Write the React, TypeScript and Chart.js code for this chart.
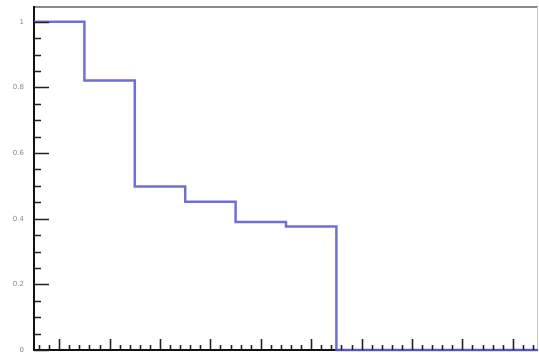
import React, { useEffect, useRef } from "react";
import { Chart, registerables } from "chart.js";

Chart.register(...registerables);

// bin centres (integers) and bin contents
const binCenters = [0, 1, 2, 3, 4, 5, 6, 7, 8, 9];
const binValues = [1.0, 0.821, 0.498, 0.452, 0.39, 0.376, 0, 0, 0, 0];
const yTickValues = [0, 0.2, 0.4, 0.6, 0.8, 1];
const yTickLabels = ["0", "0.2", "0.4", "0.6", "0.8", "1"];
const xMajorTicks = [0, 1, 2, 3, 4, 5, 6, 7, 8, 9];

const X_MIN = -0.5;
const X_MAX = 9.5;
const Y_MIN = 0;
const Y_MAX = 1.045;

const framePlugin = {
  id: "rootFrame",
  beforeDatasetsDraw(chart: any) {
    const { ctx, chartArea } = chart;
    const { left, right, top, bottom } = chartArea;
    ctx.save();
    // top line
    ctx.strokeStyle = "#8a8a8a";
    ctx.lineWidth = 2;
    ctx.beginPath();
    ctx.moveTo(left, top);
    ctx.lineTo(right, top);
    ctx.stroke();
    // right line
    ctx.strokeStyle = "#c8c8c8";
    ctx.lineWidth = 1;
    ctx.beginPath();
    ctx.moveTo(right - 0.5, top);
    ctx.lineTo(right - 0.5, bottom);
    ctx.stroke();
    // axes
    ctx.strokeStyle = "#111";
    ctx.lineWidth = 2;
    ctx.beginPath();
    ctx.moveTo(left, top - 1);
    ctx.lineTo(left, bottom);
    ctx.lineTo(right, bottom);
    ctx.stroke();
    ctx.restore();
  },
  afterDatasetsDraw(chart: any) {
    const { ctx, chartArea, scales } = chart;
    const { left, bottom } = chartArea;
    const xs = scales.x;
    const ys = scales.y;
    ctx.save();
    ctx.strokeStyle = "#222";
    ctx.lineWidth = 1.6;
    ctx.beginPath();
    // y ticks (inside, to the right)
    for (let k = 0; k <= Math.round(Y_MAX / 0.05); k++) {
      const v = k * 0.05;
      if (v > Y_MAX) break;
      const major = k % 4 === 0;
      const py = Math.round(ys.getPixelForValue(v)) + 0.5;
      ctx.moveTo(left, py);
      ctx.lineTo(left + (major ? 15 : 7), py);
    }
    // x ticks (inside, upward)
    for (let k = -4; k <= 9 * 5 + 4; k++) {
      const v = k / 5;
      if (v <= X_MIN || v >= X_MAX) continue;
      const major = k % 5 === 0 && xMajorTicks.includes(v);
      const px = Math.round(xs.getPixelForValue(v)) + 0.5;
      ctx.moveTo(px, bottom);
      ctx.lineTo(px, bottom - (major ? 11 : 5));
    }
    ctx.stroke();
    ctx.restore();
  },
};

export default function App() {
  const ref = useRef<HTMLCanvasElement | null>(null);

  useEffect(() => {
    document.body.style.margin = "0";
    const canvas = ref.current;
    if (!canvas) return;

    const points: { x: number; y: number }[] = [];
    binCenters.forEach((c, i) => {
      points.push({ x: c - 0.5, y: binValues[i] });
      points.push({ x: c + 0.5, y: binValues[i] });
    });

    const chart = new Chart(canvas, {
      type: "scatter",
      data: {
        datasets: [
          {
            data: points,
            showLine: true,
            borderColor: "rgba(95,95,212,0.9)",
            backgroundColor: "rgba(95,95,212,0.9)",
            borderWidth: 2.5,
            pointRadius: 0,
            pointHoverRadius: 0,
            tension: 0,
            clip: false,
          } as any,
        ],
      },
      options: {
        animation: false,
        responsive: false,
        maintainAspectRatio: false,
        layout: { autoPadding: false, padding: { left: 0, top: 7, right: 1, bottom: 5 } },
        plugins: {
          legend: { display: false },
          tooltip: { enabled: false },
        },
        scales: {
          x: {
            type: "linear",
            min: X_MIN,
            max: X_MAX,
            display: false,
          },
          y: {
            type: "linear",
            min: Y_MIN,
            max: Y_MAX,
            grid: { display: false, drawTicks: false },
            border: { display: false },
            afterBuildTicks: (scale: any) => {
              scale.ticks = yTickValues.map((v) => ({ value: v }));
            },
            afterFit: (scale: any) => {
              scale.width = 34;
              scale.paddingTop = 0;
              scale.paddingBottom = 0;
            },
            ticks: {
              padding: 10,
              color: "#8a8a8a",
              font: { family: "DejaVu Sans", size: 7 },
              callback: (value: any) => {
                const idx = yTickValues.findIndex((t) => Math.abs(t - Number(value)) < 1e-9);
                return idx >= 0 ? yTickLabels[idx] : "";
              },
            },
          },
        },
      },
      plugins: [framePlugin],
    });

    return () => chart.destroy();
  }, []);

  return (
    <div style={{ width: 539, height: 355 }}>
      <canvas ref={ref} width={539} height={355} style={{ display: "block" }} />
    </div>
  );
}
